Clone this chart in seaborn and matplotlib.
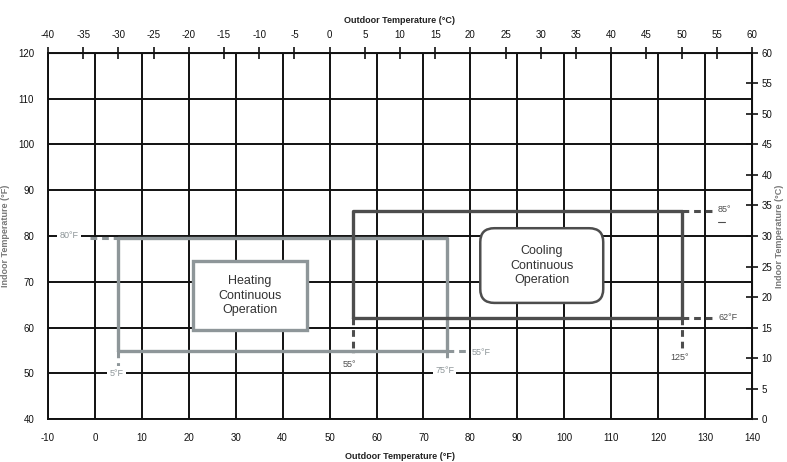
import matplotlib
matplotlib.use('Agg')
import matplotlib.pyplot as plt
import seaborn as sns
import pandas as pd
from matplotlib.ticker import MultipleLocator, FixedLocator
from matplotlib.patches import FancyBboxPatch, Rectangle

# operating ranges (outdoor F, indoor F)
heat_x = [5, 75]
heat_y = [55, 79.5]
cool_x = [55, 125]
cool_y = [62, 85.5]

# axis ranges
f_x = [-10, 140]
f_y = [40, 120]
c_x = [-40, 60]
c_y = [0, 60]
c_x_ticks = list(range(-40, 61, 5))
c_y_ticks = list(range(0, 61, 5))

sns.set_style('white')
plt.rcParams['font.family'] = ['Liberation Sans', 'DejaVu Sans']
plt.rcParams['axes.unicode_minus'] = False

fig = plt.figure(figsize=(7.87, 4.62), dpi=100)
ax = fig.add_axes([48 / 787, 1 - 419.3 / 462, 704 / 787, 366.6 / 462])

ax.set_xlim(f_x)
ax.set_ylim(f_y)
ax.xaxis.set_major_locator(MultipleLocator(10))
ax.xaxis.set_minor_locator(MultipleLocator(5))
ax.yaxis.set_major_locator(MultipleLocator(10))
ax.yaxis.set_minor_locator(MultipleLocator(5))
ax.grid(True, which='major', color='#111111', lw=1.4)
ax.set_axisbelow(True)
for s in ax.spines.values():
    s.set_color('#111111')
    s.set_linewidth(1.4)
ax.tick_params(which='major', direction='inout', length=8, width=1.2, labelsize=7, colors='#111111', pad=6)
ax.tick_params(which='minor', direction='in', length=4, width=1.0, colors='#111111')

# boxes drawn as closed paths
def box_df(xs, ys):
    return pd.DataFrame({'x': [xs[0], xs[1], xs[1], xs[0], xs[0]],
                         'y': [ys[0], ys[0], ys[1], ys[1], ys[0]]})

sns.lineplot(data=box_df(heat_x, heat_y), x='x', y='y', sort=False, estimator=None,
             color='#8e9699', lw=2.4, ax=ax, zorder=3)
sns.lineplot(data=box_df(cool_x, cool_y), x='x', y='y', sort=False, estimator=None,
             color='#4d4d4d', lw=2.4, ax=ax, zorder=3)

dash = dict(ls=(0, (2.2, 1.6)), lw=2.2, zorder=3)
hc = '#8e9699'
cc = '#4d4d4d'
# heating extensions
ax.plot([-1, heat_x[0]], [heat_y[1], heat_y[1]], color=hc, **dash)
ax.plot([heat_x[0], heat_x[0]], [heat_y[0], 51.5], color=hc, **dash)
ax.plot([heat_x[1], heat_x[1]], [heat_y[0], 52.5], color=hc, **dash)
ax.plot([heat_x[1], 79.5], [heat_y[0], heat_y[0]], color=hc, **dash)
# cooling extensions
ax.plot([cool_x[0], cool_x[0]], [cool_y[0], 54.5], color=cc, **dash)
ax.plot([cool_x[1], cool_x[1]], [cool_y[0], 55.5], color=cc, **dash)
ax.plot([cool_x[1], 131.8], [cool_y[0], cool_y[0]], color=cc, **dash)
ax.plot([cool_x[1], 131.8], [cool_y[1], cool_y[1]], color=cc, **dash)

lbl = dict(fontsize=6.5, ha='center', va='center', zorder=4,
           bbox=dict(boxstyle='square,pad=0.25', fc='white', ec='none'))
ax.text(-5.5, 80, '80°F', color=hc, **lbl)
ax.text(4.6, 50.1, '5°F', color=hc, **lbl)
ax.text(74.5, 50.6, '75°F', color=hc, **lbl)
ax.text(82.3, 54.6, '55°F', color=hc, fontsize=6.5, ha='center', va='center', zorder=4)
ax.text(54.3, 51.9, '55°', color=cc, **lbl)
ax.text(124.5, 53.4, '125°', color=cc, fontsize=6.5, ha='center', va='center', zorder=4)
ax.text(134.8, 62.2, '62°F', color=cc, fontsize=6.5, ha='center', va='center', zorder=4)
ax.text(134.2, 85.7, '85°', color=cc, fontsize=6.5, ha='center', va='center', zorder=4)
ax.plot([132.7, 134.2], [83, 83], color=cc, lw=0.8, zorder=4)

# region label boxes
ax.add_patch(Rectangle((20.9, 59.5), 24.3, 15.0, fc='white', ec='#8e9699', lw=2.4, zorder=4))
ax.text(33.05, 67, 'Heating\nContinuous\nOperation', fontsize=9, color='#333333',
        ha='center', va='center', linespacing=1.25, zorder=5)
ax.add_patch(FancyBboxPatch((82.1, 65.4), 26.2, 16.3, boxstyle='round,pad=0,rounding_size=3',
                            mutation_aspect=4.693 / 4.583 * 0.98, fc='white', ec='#4d4d4d', lw=1.8, zorder=4))
ax.text(95.2, 73.55, 'Cooling\nContinuous\nOperation', fontsize=9, color='#333333',
        ha='center', va='center', linespacing=1.25, zorder=5)

# Celsius axes
def f2c_x(v):
    return c_x[0] + (v - f_x[0]) * (c_x[1] - c_x[0]) / (f_x[1] - f_x[0])

def c2f_x(v):
    return f_x[0] + (v - c_x[0]) * (f_x[1] - f_x[0]) / (c_x[1] - c_x[0])

def f2c_y(v):
    return c_y[0] + (v - f_y[0]) * (c_y[1] - c_y[0]) / (f_y[1] - f_y[0])

def c2f_y(v):
    return f_y[0] + (v - c_y[0]) * (f_y[1] - f_y[0]) / (c_y[1] - c_y[0])

top = ax.secondary_xaxis('top', functions=(f2c_x, c2f_x))
top.xaxis.set_major_locator(FixedLocator(c_x_ticks))
top.tick_params(direction='inout', length=8, width=1.2, labelsize=7, colors='#111111', pad=5)
top.set_xlabel('Outdoor Temperature (°C)', fontsize=6.5, fontweight='bold', color='#222222', labelpad=5)

right = ax.secondary_yaxis('right', functions=(f2c_y, c2f_y))
right.yaxis.set_major_locator(FixedLocator(c_y_ticks))
right.tick_params(direction='inout', length=8, width=1.2, labelsize=7, colors='#111111', pad=3)
right.set_ylabel('Indoor Temperature (°C)', fontsize=6.5, fontweight='bold', color='#777777',
                 rotation=90, labelpad=2)

ax.set_xlabel('Outdoor Temperature (°F)', fontsize=6.5, fontweight='bold', color='#222222', labelpad=6)
ax.set_ylabel('Indoor Temperature (°F)', fontsize=6.5, fontweight='bold', color='#777777', labelpad=6)

fig.savefig('out.png', dpi=100)
